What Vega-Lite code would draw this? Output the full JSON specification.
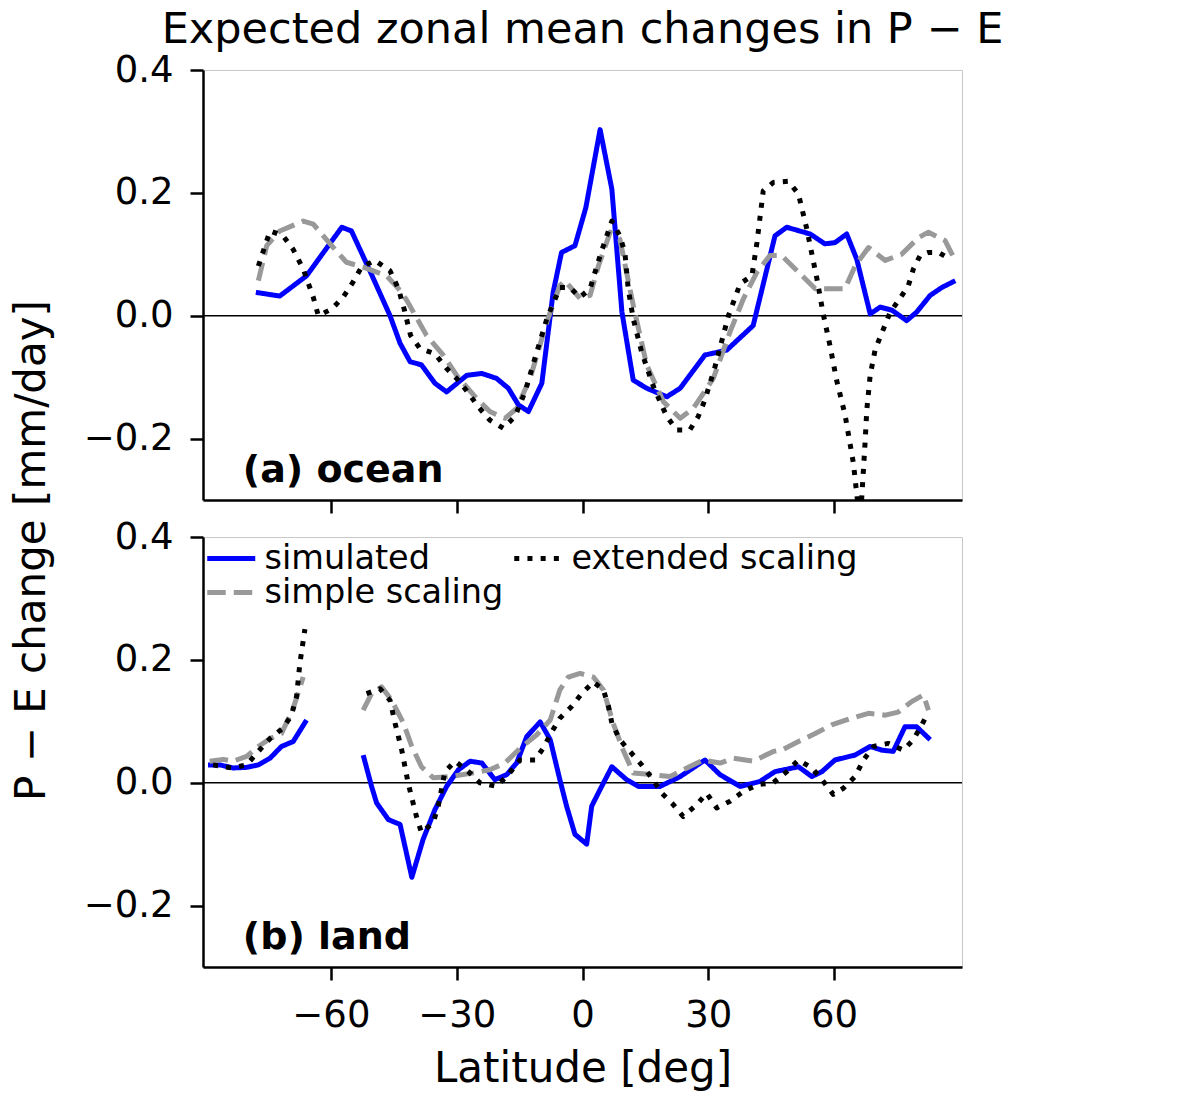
{
  "$schema": "https://vega.github.io/schema/vega-lite/v6.json",
  "autosize": {"type": "pad"},
  "padding": {"left": 9, "top": 8, "right": 5, "bottom": 5},
  "bounds": "flush",
  "spacing": 37,
  "background": "white",
  "config": {
    "font": "DejaVu Sans",
    "view": {"stroke": "#c8c8c8", "strokeWidth": 1},
    "axis": {
      "domainColor": "black", "domainWidth": 2.5,
      "tickColor": "black", "tickWidth": 2.5, "tickSize": 13,
      "labelFont": "DejaVu Sans", "labelFontSize": 37, "labelColor": "black", "labelPadding": 17,
      "labelFlush": false, "labelOverlap": false,
      "titleFont": "DejaVu Sans", "titleFontSize": 42, "titleFontWeight": "normal", "titleColor": "black",
      "grid": false
    },
    "legend": {"labelFont": "DejaVu Sans"}
  },
  "datasets": {
    "ocean": [
      {"lat": -77.9, "v": 0.038, "series": "simulated"},
      {"lat": -72.2, "v": 0.032, "series": "simulated"},
      {"lat": -65.8, "v": 0.065, "series": "simulated"},
      {"lat": -60.6, "v": 0.114, "series": "simulated"},
      {"lat": -57.4, "v": 0.144, "series": "simulated"},
      {"lat": -55.1, "v": 0.138, "series": "simulated"},
      {"lat": -50.5, "v": 0.07, "series": "simulated"},
      {"lat": -45.9, "v": 0.0, "series": "simulated"},
      {"lat": -43.5, "v": -0.045, "series": "simulated"},
      {"lat": -41.1, "v": -0.075, "series": "simulated"},
      {"lat": -38.4, "v": -0.080, "series": "simulated"},
      {"lat": -35.2, "v": -0.110, "series": "simulated"},
      {"lat": -32.4, "v": -0.124, "series": "simulated"},
      {"lat": -27.6, "v": -0.097, "series": "simulated"},
      {"lat": -24.0, "v": -0.094, "series": "simulated"},
      {"lat": -20.5, "v": -0.102, "series": "simulated"},
      {"lat": -17.7, "v": -0.118, "series": "simulated"},
      {"lat": -15.3, "v": -0.145, "series": "simulated"},
      {"lat": -12.9, "v": -0.156, "series": "simulated"},
      {"lat": -9.7, "v": -0.110, "series": "simulated"},
      {"lat": -7.0, "v": 0.038, "series": "simulated"},
      {"lat": -5.0, "v": 0.103, "series": "simulated"},
      {"lat": -1.8, "v": 0.114, "series": "simulated"},
      {"lat": 0.8, "v": 0.176, "series": "simulated"},
      {"lat": 4.2, "v": 0.303, "series": "simulated"},
      {"lat": 7.0, "v": 0.206, "series": "simulated"},
      {"lat": 9.4, "v": 0.006, "series": "simulated"},
      {"lat": 12.1, "v": -0.105, "series": "simulated"},
      {"lat": 15.3, "v": -0.118, "series": "simulated"},
      {"lat": 20.1, "v": -0.132, "series": "simulated"},
      {"lat": 23.3, "v": -0.118, "series": "simulated"},
      {"lat": 29.2, "v": -0.064, "series": "simulated"},
      {"lat": 34.4, "v": -0.056, "series": "simulated"},
      {"lat": 40.7, "v": -0.016, "series": "simulated"},
      {"lat": 45.9, "v": 0.130, "series": "simulated"},
      {"lat": 48.7, "v": 0.144, "series": "simulated"},
      {"lat": 54.3, "v": 0.133, "series": "simulated"},
      {"lat": 57.8, "v": 0.117, "series": "simulated"},
      {"lat": 60.2, "v": 0.119, "series": "simulated"},
      {"lat": 63.0, "v": 0.133, "series": "simulated"},
      {"lat": 65.4, "v": 0.092, "series": "simulated"},
      {"lat": 68.6, "v": 0.003, "series": "simulated"},
      {"lat": 71.0, "v": 0.014, "series": "simulated"},
      {"lat": 73.8, "v": 0.009, "series": "simulated"},
      {"lat": 77.3, "v": -0.008, "series": "simulated"},
      {"lat": 79.7, "v": 0.006, "series": "simulated"},
      {"lat": 82.9, "v": 0.033, "series": "simulated"},
      {"lat": 85.7, "v": 0.046, "series": "simulated"},
      {"lat": 88.9, "v": 0.057, "series": "simulated"},

      {"lat": -77.3, "v": 0.057, "series": "simple scaling"},
      {"lat": -75.3, "v": 0.114, "series": "simple scaling"},
      {"lat": -72.2, "v": 0.138, "series": "simple scaling"},
      {"lat": -66.6, "v": 0.154, "series": "simple scaling"},
      {"lat": -64.2, "v": 0.149, "series": "simple scaling"},
      {"lat": -59.4, "v": 0.111, "series": "simple scaling"},
      {"lat": -56.3, "v": 0.087, "series": "simple scaling"},
      {"lat": -52.3, "v": 0.079, "series": "simple scaling"},
      {"lat": -46.7, "v": 0.065, "series": "simple scaling"},
      {"lat": -44.0, "v": 0.045, "series": "simple scaling"},
      {"lat": -41.9, "v": 0.025, "series": "simple scaling"},
      {"lat": -37.2, "v": -0.032, "series": "simple scaling"},
      {"lat": -33.2, "v": -0.064, "series": "simple scaling"},
      {"lat": -30.0, "v": -0.097, "series": "simple scaling"},
      {"lat": -26.0, "v": -0.129, "series": "simple scaling"},
      {"lat": -22.1, "v": -0.156, "series": "simple scaling"},
      {"lat": -18.5, "v": -0.167, "series": "simple scaling"},
      {"lat": -15.7, "v": -0.151, "series": "simple scaling"},
      {"lat": -12.5, "v": -0.102, "series": "simple scaling"},
      {"lat": -8.5, "v": -0.010, "series": "simple scaling"},
      {"lat": -5.4, "v": 0.049, "series": "simple scaling"},
      {"lat": -4.2, "v": 0.057, "series": "simple scaling"},
      {"lat": -0.6, "v": 0.028, "series": "simple scaling"},
      {"lat": 1.8, "v": 0.033, "series": "simple scaling"},
      {"lat": 3.8, "v": 0.081, "series": "simple scaling"},
      {"lat": 6.6, "v": 0.136, "series": "simple scaling"},
      {"lat": 8.9, "v": 0.125, "series": "simple scaling"},
      {"lat": 12.1, "v": 0.017, "series": "simple scaling"},
      {"lat": 15.3, "v": -0.080, "series": "simple scaling"},
      {"lat": 19.3, "v": -0.140, "series": "simple scaling"},
      {"lat": 23.3, "v": -0.167, "series": "simple scaling"},
      {"lat": 26.4, "v": -0.151, "series": "simple scaling"},
      {"lat": 31.2, "v": -0.102, "series": "simple scaling"},
      {"lat": 35.2, "v": -0.026, "series": "simple scaling"},
      {"lat": 38.4, "v": 0.028, "series": "simple scaling"},
      {"lat": 41.6, "v": 0.071, "series": "simple scaling"},
      {"lat": 44.7, "v": 0.098, "series": "simple scaling"},
      {"lat": 47.5, "v": 0.098, "series": "simple scaling"},
      {"lat": 51.5, "v": 0.071, "series": "simple scaling"},
      {"lat": 55.5, "v": 0.044, "series": "simple scaling"},
      {"lat": 62.6, "v": 0.044, "series": "simple scaling"},
      {"lat": 65.0, "v": 0.081, "series": "simple scaling"},
      {"lat": 68.2, "v": 0.111, "series": "simple scaling"},
      {"lat": 72.2, "v": 0.090, "series": "simple scaling"},
      {"lat": 76.1, "v": 0.100, "series": "simple scaling"},
      {"lat": 80.1, "v": 0.127, "series": "simple scaling"},
      {"lat": 82.5, "v": 0.136, "series": "simple scaling"},
      {"lat": 86.5, "v": 0.122, "series": "simple scaling"},
      {"lat": 88.5, "v": 0.095, "series": "simple scaling"},

      {"lat": -77.3, "v": 0.081, "series": "extended scaling"},
      {"lat": -75.7, "v": 0.114, "series": "extended scaling"},
      {"lat": -74.5, "v": 0.138, "series": "extended scaling"},
      {"lat": -71.4, "v": 0.130, "series": "extended scaling"},
      {"lat": -69.0, "v": 0.108, "series": "extended scaling"},
      {"lat": -66.6, "v": 0.076, "series": "extended scaling"},
      {"lat": -64.2, "v": 0.030, "series": "extended scaling"},
      {"lat": -63.0, "v": 0.0, "series": "extended scaling"},
      {"lat": -59.8, "v": 0.011, "series": "extended scaling"},
      {"lat": -57.1, "v": 0.030, "series": "extended scaling"},
      {"lat": -54.7, "v": 0.055, "series": "extended scaling"},
      {"lat": -52.7, "v": 0.079, "series": "extended scaling"},
      {"lat": -49.5, "v": 0.090, "series": "extended scaling"},
      {"lat": -45.9, "v": 0.073, "series": "extended scaling"},
      {"lat": -43.9, "v": 0.044, "series": "extended scaling"},
      {"lat": -42.5, "v": 0.010, "series": "extended scaling"},
      {"lat": -41.0, "v": -0.032, "series": "extended scaling"},
      {"lat": -38.8, "v": -0.053, "series": "extended scaling"},
      {"lat": -35.2, "v": -0.062, "series": "extended scaling"},
      {"lat": -32.4, "v": -0.086, "series": "extended scaling"},
      {"lat": -29.6, "v": -0.105, "series": "extended scaling"},
      {"lat": -27.2, "v": -0.126, "series": "extended scaling"},
      {"lat": -24.9, "v": -0.148, "series": "extended scaling"},
      {"lat": -22.1, "v": -0.170, "series": "extended scaling"},
      {"lat": -18.9, "v": -0.183, "series": "extended scaling"},
      {"lat": -16.1, "v": -0.164, "series": "extended scaling"},
      {"lat": -13.7, "v": -0.124, "series": "extended scaling"},
      {"lat": -10.9, "v": -0.059, "series": "extended scaling"},
      {"lat": -8.5, "v": -0.005, "series": "extended scaling"},
      {"lat": -5.4, "v": 0.046, "series": "extended scaling"},
      {"lat": -3.0, "v": 0.046, "series": "extended scaling"},
      {"lat": -0.6, "v": 0.030, "series": "extended scaling"},
      {"lat": 1.8, "v": 0.044, "series": "extended scaling"},
      {"lat": 4.2, "v": 0.098, "series": "extended scaling"},
      {"lat": 7.0, "v": 0.154, "series": "extended scaling"},
      {"lat": 8.9, "v": 0.130, "series": "extended scaling"},
      {"lat": 10.1, "v": 0.103, "series": "extended scaling"},
      {"lat": 10.9, "v": 0.044, "series": "extended scaling"},
      {"lat": 12.1, "v": -0.005, "series": "extended scaling"},
      {"lat": 14.1, "v": -0.059, "series": "extended scaling"},
      {"lat": 16.9, "v": -0.115, "series": "extended scaling"},
      {"lat": 18.5, "v": -0.140, "series": "extended scaling"},
      {"lat": 20.1, "v": -0.164, "series": "extended scaling"},
      {"lat": 22.5, "v": -0.186, "series": "extended scaling"},
      {"lat": 25.6, "v": -0.186, "series": "extended scaling"},
      {"lat": 27.6, "v": -0.164, "series": "extended scaling"},
      {"lat": 29.2, "v": -0.137, "series": "extended scaling"},
      {"lat": 31.6, "v": -0.083, "series": "extended scaling"},
      {"lat": 34.8, "v": 0.0, "series": "extended scaling"},
      {"lat": 37.6, "v": 0.052, "series": "extended scaling"},
      {"lat": 40.4, "v": 0.065, "series": "extended scaling"},
      {"lat": 41.6, "v": 0.119, "series": "extended scaling"},
      {"lat": 43.1, "v": 0.203, "series": "extended scaling"},
      {"lat": 45.5, "v": 0.217, "series": "extended scaling"},
      {"lat": 49.1, "v": 0.219, "series": "extended scaling"},
      {"lat": 51.5, "v": 0.198, "series": "extended scaling"},
      {"lat": 53.5, "v": 0.141, "series": "extended scaling"},
      {"lat": 55.9, "v": 0.060, "series": "extended scaling"},
      {"lat": 57.4, "v": 0.003, "series": "extended scaling"},
      {"lat": 59.0, "v": -0.048, "series": "extended scaling"},
      {"lat": 60.6, "v": -0.105, "series": "extended scaling"},
      {"lat": 62.6, "v": -0.161, "series": "extended scaling"},
      {"lat": 64.6, "v": -0.240, "series": "extended scaling"},
      {"lat": 66.2, "v": -0.340, "series": "extended scaling"},
      {"lat": 67.0, "v": -0.250, "series": "extended scaling"},
      {"lat": 67.4, "v": -0.205, "series": "extended scaling"},
      {"lat": 67.8, "v": -0.153, "series": "extended scaling"},
      {"lat": 68.6, "v": -0.097, "series": "extended scaling"},
      {"lat": 69.8, "v": -0.055, "series": "extended scaling"},
      {"lat": 71.8, "v": -0.021, "series": "extended scaling"},
      {"lat": 73.4, "v": 0.006, "series": "extended scaling"},
      {"lat": 75.7, "v": 0.028, "series": "extended scaling"},
      {"lat": 77.7, "v": 0.049, "series": "extended scaling"},
      {"lat": 78.9, "v": 0.076, "series": "extended scaling"},
      {"lat": 80.5, "v": 0.098, "series": "extended scaling"},
      {"lat": 82.5, "v": 0.103, "series": "extended scaling"},
      {"lat": 84.9, "v": 0.103, "series": "extended scaling"},
      {"lat": 87.7, "v": 0.092, "series": "extended scaling"}
    ],
    "land": [
      {"lat": -89.3, "v": 0.029, "series": "simulated", "seg": 1},
      {"lat": -86.5, "v": 0.029, "series": "simulated", "seg": 1},
      {"lat": -83.3, "v": 0.024, "series": "simulated", "seg": 1},
      {"lat": -80.1, "v": 0.025, "series": "simulated", "seg": 1},
      {"lat": -77.3, "v": 0.029, "series": "simulated", "seg": 1},
      {"lat": -74.5, "v": 0.040, "series": "simulated", "seg": 1},
      {"lat": -71.8, "v": 0.059, "series": "simulated", "seg": 1},
      {"lat": -69.0, "v": 0.067, "series": "simulated", "seg": 1},
      {"lat": -65.8, "v": 0.102, "series": "simulated", "seg": 1},
      {"lat": -52.3, "v": 0.045, "series": "simulated", "seg": 2},
      {"lat": -50.3, "v": -0.006, "series": "simulated", "seg": 2},
      {"lat": -49.1, "v": -0.033, "series": "simulated", "seg": 2},
      {"lat": -46.3, "v": -0.060, "series": "simulated", "seg": 2},
      {"lat": -43.5, "v": -0.068, "series": "simulated", "seg": 2},
      {"lat": -40.7, "v": -0.154, "series": "simulated", "seg": 2},
      {"lat": -38.0, "v": -0.092, "series": "simulated", "seg": 2},
      {"lat": -35.2, "v": -0.044, "series": "simulated", "seg": 2},
      {"lat": -32.4, "v": -0.006, "series": "simulated", "seg": 2},
      {"lat": -29.6, "v": 0.021, "series": "simulated", "seg": 2},
      {"lat": -26.8, "v": 0.035, "series": "simulated", "seg": 2},
      {"lat": -24.0, "v": 0.032, "series": "simulated", "seg": 2},
      {"lat": -20.9, "v": 0.005, "series": "simulated", "seg": 2},
      {"lat": -18.1, "v": 0.013, "series": "simulated", "seg": 2},
      {"lat": -15.7, "v": 0.032, "series": "simulated", "seg": 2},
      {"lat": -13.3, "v": 0.075, "series": "simulated", "seg": 2},
      {"lat": -10.1, "v": 0.099, "series": "simulated", "seg": 2},
      {"lat": -7.7, "v": 0.070, "series": "simulated", "seg": 2},
      {"lat": -5.4, "v": 0.005, "series": "simulated", "seg": 2},
      {"lat": -3.8, "v": -0.038, "series": "simulated", "seg": 2},
      {"lat": -1.8, "v": -0.084, "series": "simulated", "seg": 2},
      {"lat": 1.0, "v": -0.100, "series": "simulated", "seg": 2},
      {"lat": 2.2, "v": -0.038, "series": "simulated", "seg": 2},
      {"lat": 4.2, "v": -0.011, "series": "simulated", "seg": 2},
      {"lat": 7.0, "v": 0.026, "series": "simulated", "seg": 2},
      {"lat": 10.5, "v": 0.005, "series": "simulated", "seg": 2},
      {"lat": 13.3, "v": -0.006, "series": "simulated", "seg": 2},
      {"lat": 18.5, "v": -0.006, "series": "simulated", "seg": 2},
      {"lat": 23.3, "v": 0.010, "series": "simulated", "seg": 2},
      {"lat": 29.2, "v": 0.037, "series": "simulated", "seg": 2},
      {"lat": 32.8, "v": 0.013, "series": "simulated", "seg": 2},
      {"lat": 37.6, "v": -0.006, "series": "simulated", "seg": 2},
      {"lat": 42.3, "v": 0.002, "series": "simulated", "seg": 2},
      {"lat": 45.9, "v": 0.018, "series": "simulated", "seg": 2},
      {"lat": 51.5, "v": 0.026, "series": "simulated", "seg": 2},
      {"lat": 54.7, "v": 0.010, "series": "simulated", "seg": 2},
      {"lat": 57.1, "v": 0.018, "series": "simulated", "seg": 2},
      {"lat": 60.2, "v": 0.037, "series": "simulated", "seg": 2},
      {"lat": 65.0, "v": 0.045, "series": "simulated", "seg": 2},
      {"lat": 68.6, "v": 0.059, "series": "simulated", "seg": 2},
      {"lat": 71.4, "v": 0.053, "series": "simulated", "seg": 2},
      {"lat": 74.1, "v": 0.051, "series": "simulated", "seg": 2},
      {"lat": 76.9, "v": 0.091, "series": "simulated", "seg": 2},
      {"lat": 79.7, "v": 0.091, "series": "simulated", "seg": 2},
      {"lat": 82.9, "v": 0.070, "series": "simulated", "seg": 2},

      {"lat": -88.9, "v": 0.035, "series": "simple scaling", "seg": 1},
      {"lat": -85.7, "v": 0.038, "series": "simple scaling", "seg": 1},
      {"lat": -83.3, "v": 0.035, "series": "simple scaling", "seg": 1},
      {"lat": -80.1, "v": 0.043, "series": "simple scaling", "seg": 1},
      {"lat": -77.3, "v": 0.059, "series": "simple scaling", "seg": 1},
      {"lat": -74.5, "v": 0.072, "series": "simple scaling", "seg": 1},
      {"lat": -71.8, "v": 0.080, "series": "simple scaling", "seg": 1},
      {"lat": -69.0, "v": 0.121, "series": "simple scaling", "seg": 1},
      {"lat": -66.6, "v": 0.172, "series": "simple scaling", "seg": 1},
      {"lat": -52.3, "v": 0.118, "series": "simple scaling", "seg": 2},
      {"lat": -50.3, "v": 0.145, "series": "simple scaling", "seg": 2},
      {"lat": -47.9, "v": 0.156, "series": "simple scaling", "seg": 2},
      {"lat": -45.5, "v": 0.134, "series": "simple scaling", "seg": 2},
      {"lat": -42.7, "v": 0.097, "series": "simple scaling", "seg": 2},
      {"lat": -40.7, "v": 0.059, "series": "simple scaling", "seg": 2},
      {"lat": -38.4, "v": 0.026, "series": "simple scaling", "seg": 2},
      {"lat": -35.6, "v": 0.008, "series": "simple scaling", "seg": 2},
      {"lat": -31.6, "v": 0.010, "series": "simple scaling", "seg": 2},
      {"lat": -26.0, "v": 0.016, "series": "simple scaling", "seg": 2},
      {"lat": -22.1, "v": 0.021, "series": "simple scaling", "seg": 2},
      {"lat": -18.5, "v": 0.032, "series": "simple scaling", "seg": 2},
      {"lat": -14.9, "v": 0.056, "series": "simple scaling", "seg": 2},
      {"lat": -10.9, "v": 0.078, "series": "simple scaling", "seg": 2},
      {"lat": -7.7, "v": 0.102, "series": "simple scaling", "seg": 2},
      {"lat": -5.4, "v": 0.151, "series": "simple scaling", "seg": 2},
      {"lat": -3.4, "v": 0.172, "series": "simple scaling", "seg": 2},
      {"lat": -0.6, "v": 0.178, "series": "simple scaling", "seg": 2},
      {"lat": 2.6, "v": 0.172, "series": "simple scaling", "seg": 2},
      {"lat": 5.0, "v": 0.151, "series": "simple scaling", "seg": 2},
      {"lat": 7.3, "v": 0.097, "series": "simple scaling", "seg": 2},
      {"lat": 9.7, "v": 0.053, "series": "simple scaling", "seg": 2},
      {"lat": 12.1, "v": 0.016, "series": "simple scaling", "seg": 2},
      {"lat": 16.9, "v": 0.013, "series": "simple scaling", "seg": 2},
      {"lat": 20.9, "v": 0.010, "series": "simple scaling", "seg": 2},
      {"lat": 24.9, "v": 0.024, "series": "simple scaling", "seg": 2},
      {"lat": 28.8, "v": 0.037, "series": "simple scaling", "seg": 2},
      {"lat": 32.8, "v": 0.032, "series": "simple scaling", "seg": 2},
      {"lat": 36.0, "v": 0.040, "series": "simple scaling", "seg": 2},
      {"lat": 40.7, "v": 0.035, "series": "simple scaling", "seg": 2},
      {"lat": 45.5, "v": 0.051, "series": "simple scaling", "seg": 2},
      {"lat": 47.5, "v": 0.053, "series": "simple scaling", "seg": 2},
      {"lat": 51.5, "v": 0.067, "series": "simple scaling", "seg": 2},
      {"lat": 55.5, "v": 0.080, "series": "simple scaling", "seg": 2},
      {"lat": 59.4, "v": 0.094, "series": "simple scaling", "seg": 2},
      {"lat": 64.2, "v": 0.105, "series": "simple scaling", "seg": 2},
      {"lat": 68.2, "v": 0.113, "series": "simple scaling", "seg": 2},
      {"lat": 72.2, "v": 0.110, "series": "simple scaling", "seg": 2},
      {"lat": 75.3, "v": 0.115, "series": "simple scaling", "seg": 2},
      {"lat": 78.5, "v": 0.132, "series": "simple scaling", "seg": 2},
      {"lat": 81.3, "v": 0.143, "series": "simple scaling", "seg": 2},
      {"lat": 82.5, "v": 0.118, "series": "simple scaling", "seg": 2},

      {"lat": -88.1, "v": 0.029, "series": "extended scaling", "seg": 1},
      {"lat": -83.7, "v": 0.024, "series": "extended scaling", "seg": 1},
      {"lat": -80.1, "v": 0.029, "series": "extended scaling", "seg": 1},
      {"lat": -77.3, "v": 0.051, "series": "extended scaling", "seg": 1},
      {"lat": -74.5, "v": 0.072, "series": "extended scaling", "seg": 1},
      {"lat": -71.4, "v": 0.089, "series": "extended scaling", "seg": 1},
      {"lat": -69.4, "v": 0.110, "series": "extended scaling", "seg": 1},
      {"lat": -68.2, "v": 0.140, "series": "extended scaling", "seg": 1},
      {"lat": -67.4, "v": 0.194, "series": "extended scaling", "seg": 1},
      {"lat": -66.2, "v": 0.250, "series": "extended scaling", "seg": 1},
      {"lat": -51.5, "v": 0.145, "series": "extended scaling", "seg": 2},
      {"lat": -48.3, "v": 0.153, "series": "extended scaling", "seg": 2},
      {"lat": -45.9, "v": 0.134, "series": "extended scaling", "seg": 2},
      {"lat": -44.7, "v": 0.097, "series": "extended scaling", "seg": 2},
      {"lat": -43.1, "v": 0.053, "series": "extended scaling", "seg": 2},
      {"lat": -41.6, "v": 0.0, "series": "extended scaling", "seg": 2},
      {"lat": -39.6, "v": -0.055, "series": "extended scaling", "seg": 2},
      {"lat": -38.4, "v": -0.081, "series": "extended scaling", "seg": 2},
      {"lat": -35.6, "v": -0.065, "series": "extended scaling", "seg": 2},
      {"lat": -34.4, "v": -0.038, "series": "extended scaling", "seg": 2},
      {"lat": -32.8, "v": 0.018, "series": "extended scaling", "seg": 2},
      {"lat": -30.4, "v": 0.035, "series": "extended scaling", "seg": 2},
      {"lat": -27.2, "v": 0.018, "series": "extended scaling", "seg": 2},
      {"lat": -24.5, "v": 0.0, "series": "extended scaling", "seg": 2},
      {"lat": -20.5, "v": -0.006, "series": "extended scaling", "seg": 2},
      {"lat": -17.7, "v": 0.013, "series": "extended scaling", "seg": 2},
      {"lat": -14.9, "v": 0.037, "series": "extended scaling", "seg": 2},
      {"lat": -11.3, "v": 0.037, "series": "extended scaling", "seg": 2},
      {"lat": -9.4, "v": 0.056, "series": "extended scaling", "seg": 2},
      {"lat": -7.3, "v": 0.083, "series": "extended scaling", "seg": 2},
      {"lat": -5.4, "v": 0.105, "series": "extended scaling", "seg": 2},
      {"lat": -2.6, "v": 0.124, "series": "extended scaling", "seg": 2},
      {"lat": -0.2, "v": 0.145, "series": "extended scaling", "seg": 2},
      {"lat": 2.6, "v": 0.164, "series": "extended scaling", "seg": 2},
      {"lat": 5.0, "v": 0.151, "series": "extended scaling", "seg": 2},
      {"lat": 6.2, "v": 0.124, "series": "extended scaling", "seg": 2},
      {"lat": 7.0, "v": 0.097, "series": "extended scaling", "seg": 2},
      {"lat": 8.9, "v": 0.070, "series": "extended scaling", "seg": 2},
      {"lat": 11.3, "v": 0.051, "series": "extended scaling", "seg": 2},
      {"lat": 14.1, "v": 0.029, "series": "extended scaling", "seg": 2},
      {"lat": 16.5, "v": 0.008, "series": "extended scaling", "seg": 2},
      {"lat": 18.9, "v": -0.017, "series": "extended scaling", "seg": 2},
      {"lat": 21.7, "v": -0.036, "series": "extended scaling", "seg": 2},
      {"lat": 24.0, "v": -0.055, "series": "extended scaling", "seg": 2},
      {"lat": 27.2, "v": -0.036, "series": "extended scaling", "seg": 2},
      {"lat": 29.6, "v": -0.017, "series": "extended scaling", "seg": 2},
      {"lat": 32.0, "v": -0.041, "series": "extended scaling", "seg": 2},
      {"lat": 35.2, "v": -0.030, "series": "extended scaling", "seg": 2},
      {"lat": 38.4, "v": -0.014, "series": "extended scaling", "seg": 2},
      {"lat": 41.9, "v": -0.003, "series": "extended scaling", "seg": 2},
      {"lat": 45.5, "v": 0.0, "series": "extended scaling", "seg": 2},
      {"lat": 48.7, "v": 0.018, "series": "extended scaling", "seg": 2},
      {"lat": 51.5, "v": 0.037, "series": "extended scaling", "seg": 2},
      {"lat": 54.7, "v": 0.024, "series": "extended scaling", "seg": 2},
      {"lat": 57.1, "v": 0.005, "series": "extended scaling", "seg": 2},
      {"lat": 59.8, "v": -0.019, "series": "extended scaling", "seg": 2},
      {"lat": 62.2, "v": -0.009, "series": "extended scaling", "seg": 2},
      {"lat": 65.0, "v": 0.010, "series": "extended scaling", "seg": 2},
      {"lat": 67.0, "v": 0.037, "series": "extended scaling", "seg": 2},
      {"lat": 69.4, "v": 0.059, "series": "extended scaling", "seg": 2},
      {"lat": 72.9, "v": 0.064, "series": "extended scaling", "seg": 2},
      {"lat": 76.5, "v": 0.053, "series": "extended scaling", "seg": 2},
      {"lat": 78.9, "v": 0.070, "series": "extended scaling", "seg": 2},
      {"lat": 80.9, "v": 0.094, "series": "extended scaling", "seg": 2},
      {"lat": 82.5, "v": 0.115, "series": "extended scaling", "seg": 2}
    ]
  },
  "resolve": {
    "scale": {"x": "independent", "y": "independent", "color": "independent", "strokeDash": "independent"},
    "axis": {"x": "independent", "y": "independent"},
    "legend": {"color": "independent", "strokeDash": "independent"}
  },
  "vconcat": [
    {
      "width": 759,
      "height": 430,
      "title": {"text": "Expected zonal mean changes in P − E", "fontSize": 43, "font": "DejaVu Sans", "fontWeight": "normal", "color": "black", "anchor": "middle", "frame": "group", "baseline": "bottom", "offset": -44},
      "layer": [
        {
          "data": {"values": [{}]},
          "mark": {"type": "rule", "color": "black", "strokeWidth": 1.5},
          "encoding": {"y": {"datum": 0, "type": "quantitative"}}
        },
        {
          "data": {"name": "ocean"},
          "mark": {"type": "line", "strokeWidth": 5, "clip": true, "strokeCap": "butt", "strokeJoin": "round"},
          "encoding": {
            "x": {"field": "lat", "type": "quantitative",
                  "scale": {"domain": [-90.5, 90.5], "nice": false, "zero": false},
                  "axis": {"values": [-60, -30, 0, 30, 60], "labels": false, "title": null}},
            "y": {"field": "v", "type": "quantitative",
                  "scale": {"domain": [-0.3, 0.4], "nice": false, "zero": false},
                  "axis": {"values": [-0.2, 0, 0.2, 0.4], "format": ".1f", "title": "P − E change [mm/day]", "titleY": 480, "titlePadding": 30}},
            "color": {"field": "series", "type": "nominal",
                      "scale": {"domain": ["simulated", "simple scaling", "extended scaling"], "range": ["#0000ff", "#999999", "#000000"]},
                      "legend": null},
            "strokeDash": {"field": "series", "type": "nominal",
                      "scale": {"domain": ["simulated", "simple scaling", "extended scaling"], "range": [[1, 0], [18.5, 8], [5, 8.2]]},
                      "legend": null}
          }
        },
        {
          "data": {"values": [{}]},
          "mark": {"type": "text", "fontSize": 38, "fontWeight": "bold", "font": "DejaVu Sans", "align": "left", "baseline": "alphabetic", "color": "black"},
          "encoding": {
            "x": {"datum": -81, "type": "quantitative"},
            "y": {"datum": -0.2704, "type": "quantitative"},
            "text": {"value": "(a) ocean"}
          }
        }
      ]
    },
    {
      "width": 759,
      "height": 430,
      "layer": [
        {
          "data": {"values": [{}]},
          "mark": {"type": "rule", "color": "black", "strokeWidth": 1.5},
          "encoding": {"y": {"datum": 0, "type": "quantitative"}}
        },
        {
          "data": {"name": "land"},
          "mark": {"type": "line", "strokeWidth": 5, "clip": true, "strokeCap": "butt", "strokeJoin": "round"},
          "encoding": {
            "x": {"field": "lat", "type": "quantitative",
                  "scale": {"domain": [-90.5, 90.5], "nice": false, "zero": false},
                  "axis": {"values": [-60, -30, 0, 30, 60], "format": "d", "title": "Latitude [deg]", "titlePadding": 15}},
            "y": {"field": "v", "type": "quantitative",
                  "scale": {"domain": [-0.3, 0.4], "nice": false, "zero": false},
                  "axis": {"values": [-0.2, 0, 0.2, 0.4], "format": ".1f", "title": null}},
            "color": {"field": "series", "type": "nominal",
                      "scale": {"domain": ["simulated", "simple scaling", "extended scaling"], "range": ["#0000ff", "#999999", "#000000"]},
                      "legend": {"orient": "top-left", "columns": 2, "title": null, "symbolType": "M-1.15,0H2.05", "symbolSize": 900, "symbolStrokeWidth": 5, "labelFontSize": 33.5, "labelColor": "black", "labelFont": "DejaVu Sans", "labelLimit": 500, "offset": 4, "padding": 0, "rowPadding": 0, "columnPadding": 0, "labelOffset": 22.5}},
            "strokeDash": {"field": "series", "type": "nominal",
                      "scale": {"domain": ["simulated", "simple scaling", "extended scaling"], "range": [[1, 0], [18.5, 8], [5, 8.2]]},
                      "legend": {"orient": "top-left", "columns": 2, "title": null, "symbolType": "M-1.15,0H2.05", "symbolSize": 900, "symbolStrokeWidth": 5, "labelFontSize": 33.5, "labelColor": "black", "labelFont": "DejaVu Sans", "labelLimit": 500, "offset": 4, "padding": 0, "rowPadding": 0, "columnPadding": 0, "labelOffset": 22.5}},
            "detail": {"field": "seg", "type": "nominal"}
          }
        },
        {
          "data": {"values": [{}]},
          "mark": {"type": "text", "fontSize": 38, "fontWeight": "bold", "font": "DejaVu Sans", "align": "left", "baseline": "alphabetic", "color": "black"},
          "encoding": {
            "x": {"datum": -81, "type": "quantitative"},
            "y": {"datum": -0.2704, "type": "quantitative"},
            "text": {"value": "(b) land"}
          }
        }
      ]
    }
  ]
}
